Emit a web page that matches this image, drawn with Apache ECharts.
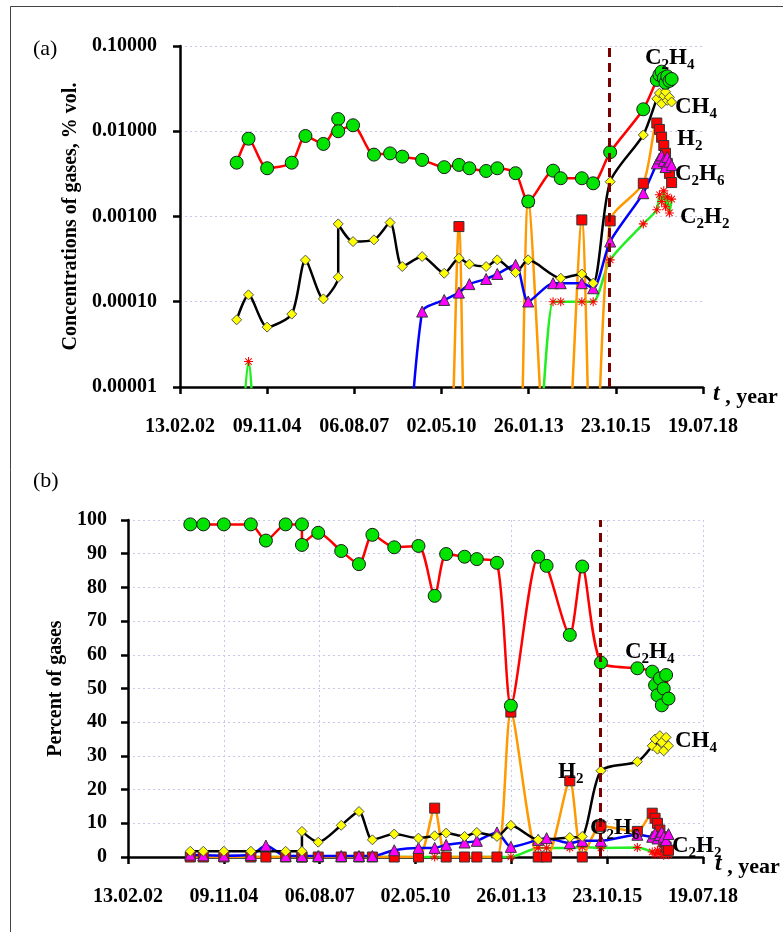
<!DOCTYPE html>
<html>
<head>
<meta charset="utf-8">
<script src="https://cdn.jsdelivr.net/npm/echarts@6/dist/echarts.min.js"></script>
<style>
  html, body { margin: 0; padding: 0; background: #fff; }
  #chart { width: 783px; height: 932px; }
</style>
</head>
<body>
<div id="chart"></div>
<script>
  // x values are days counted from 13.02.02, ticks every 1000 days
  const tickLabels = ['13.02.02', '09.11.04', '06.08.07', '02.05.10', '26.01.13', '23.10.15', '19.07.18'];
  const days = [650, 786, 1000, 1282, 1439, 1645, 1815, 1815, 1985, 2225, 2410, 2550, 2778,
    3031, 3200, 3320, 3512, 3640, 3850, 3995, 4280, 4368, 4610, 4740, 4935, 5315,
    5470, 5500, 5525, 5550, 5570, 5590, 5615, 5640];
  const eventDay = 4925;

  // (a) concentrations, % vol. (0 = not detected)
  const c2h4Vol = [0.00428, 0.00818, 0.00368, 0.00428, 0.0088, 0.0071, 0.0139, 0.0100, 0.01175, 0.00532, 0.0055, 0.00504, 0.00461,
    0.00379, 0.00403, 0.00368, 0.00342, 0.00368, 0.00322, 0.00150, 0.00345, 0.00281, 0.00281, 0.00245, 0.00568, 0.0181,
    0.040, 0.046, 0.050, 0.042, 0.037, 0.044, 0.039, 0.041];
  const ch4Vol = [0.0000614, 0.0001205, 0.0000504, 0.0000716, 0.000308, 0.000108, 0.000194, 0.000819, 0.000508, 0.000532, 0.000849, 0.000259, 0.000339,
    0.000216, 0.000324, 0.000276, 0.000259, 0.00031, 0.00022, 0.00031, null, 0.000189, 0.000212, 0.000165, 0.00256, 0.00905,
    0.024, 0.028, 0.021, 0.026, 0.029, 0.023, 0.025, 0.022];
  const h2Vol = [0, 0, 0, 0, 0, 0, 0, 0, 0, 0, 0, 0, 0,
    0, 0.000762, 0, 0, 0, 0, 0.0015, 0, 0, 0.000912, 0, 0.000888, 0.00245,
    0.0125, 0.0105, 0.0085, 0.0068, 0.0055, 0.0042, 0.0032, 0.0025];
  const c2h6Vol = [null, null, null, null, null, null, null, null, null, null, null, 0, 0.0000767,
    0.000105, 0.000128, 0.000161, 0.000185, 0.000212, 0.000271, 0.0001007, 0.000165, 0.000165, 0.000165, 0.000144, 0.000508, 0.001876,
    0.0042, 0.0048, 0.0052, 0.0045, 0.0038, 0.0050, 0.0044, 0.0040];
  const c2h2Vol = [0, 0.0000199, 0, 0, 0, 0, 0, 0, 0, 0, 0, 0, 0,
    0, 0, 0, 0, 0, 0, 0, 0.0001, 0.0001, 0.0001, 0.0001, 0.00031, 0.000819,
    0.0012, 0.0018, 0.0015, 0.0020, 0.0013, 0.0017, 0.0011, 0.0016];

  // (b) percent of gases
  const c2h4Pct = [98.7, 98.7, 98.7, 98.7, 93.9, 98.7, 98.7, 92.6, 96.2, 90.8, 86.9, 95.6, 91.9,
    92.3, 77.5, 89.9, 89.1, 88.4, 87.3, 44.9, 89.1, 86.4, 65.9, 86.2, 57.7, 56.0,
    55, 51, 48, 53, 45, 50, 54, 47];
  const ch4Pct = [1.7, 1.7, 1.7, 1.7, null, 1.7, 1.7, 7.6, 4.4, 9.4, 13.5, 5.1, 6.8,
    5.6, 6.3, 7.1, 6.1, 7.3, 6.1, 9.4, 5.1, null, 5.8, 6.1, 25.6, 28.3,
    33, 35, 32, 36, 34, 31.5, 35.5, 33];
  const h2Pct = [0, 0, 0, 0, 0, 0, 0, 0, 0, 0, 0, 0, 0,
    0, 14.5, 0, 0, 0, 0, 43.0, 0, 0, 22.6, 0, 9.1, 7.6,
    13, 11.5, 10, 8, 6, 4.5, 3, 2];
  const c2h6Pct = [0.7, 0.5, 0.4, 0.6, 3.4, 0.3, 0.3, 0.3, 0.3, 0.3, 0.3, 0.3, 2.0,
    2.7, 2.7, 3.6, 4.3, 4.8, 7.3, 3.0, 5.1, 5.6, 4.1, 4.8, 4.8, 6.6,
    6, 7, 5.5, 6.5, 7.5, 6, 5, 6.8];
  const c2h2Pct = [0, 0.2, 0, 0, 0, 0, 0, 0, 0, 0, 0, 0, 0,
    0, 0, 0, 0, 0, 0, 0, 2.7, 2.7, 2.7, 3.0, 2.7, 2.8,
    1.5, 0.8, 2, 1, 1.8, 0.5, 1.2, 0.7];

  const FONT = "'Liberation Serif', 'Times New Roman', serif";
  const LOG_FLOOR = 1e-7; // stand-in for "not detected" on the log axis

  const pairs = (vals, logScale) =>
    days
      .map((d, i) => [d, vals[i]])
      .filter((p) => p[1] != null)
      .map((p) => [p[0], logScale && p[1] <= 0 ? LOG_FLOOR : p[1]]);

  const asterisk = 'path://M0,4.4L10,4.4L10,5.6L0,5.6Z M4.4,0L5.6,0L5.6,10L4.4,10Z M1,1.8L1.8,1L9,8.2L8.2,9Z M8.2,1L9,1.8L1.8,9L1,8.2Z';

  const gases = [
    { key: 'c2h2', line: '#22ee22', symbol: asterisk, size: 9, fill: '#ff0000', border: '#ff0000', bw: 0 },
    { key: 'h2', line: '#ff9900', symbol: 'rect', size: 10, fill: '#ff0000', border: '#333', bw: 1 },
    { key: 'c2h6', line: '#0000ff', symbol: 'triangle', size: 11, fill: '#ff00ff', border: '#333', bw: 1 },
    { key: 'ch4', line: '#000000', symbol: 'diamond', size: 10, fill: '#ffff00', border: '#555', bw: 1 },
    { key: 'c2h4', line: '#ff0000', symbol: 'circle', size: 13, fill: '#00e400', border: '#1a1a1a', bw: 1 },
  ];
  const topData = { c2h4: c2h4Vol, ch4: ch4Vol, h2: h2Vol, c2h6: c2h6Vol, c2h2: c2h2Vol };
  const botData = { c2h4: c2h4Pct, ch4: ch4Pct, h2: h2Pct, c2h6: c2h6Pct, c2h2: c2h2Pct };

  const eventLine = {
    silent: true,
    symbol: ['none', 'none'],
    label: { show: false },
    lineStyle: { color: '#7a0000', type: [9, 6], width: 3 },
    data: [{ xAxis: eventDay }],
  };

  const makeSeries = (g, gridIdx) => ({
    type: 'line',
    xAxisIndex: gridIdx,
    yAxisIndex: gridIdx,
    data: pairs(gridIdx === 0 ? topData[g.key] : botData[g.key], gridIdx === 0),
    smooth: 0.25,
    clip: true,
    symbol: g.symbol,
    symbolSize: g.size,
    showAllSymbol: true,
    lineStyle: { color: g.line, width: 2.5 },
    itemStyle: { color: g.fill, borderColor: g.border, borderWidth: g.bw },
    animation: false,
    markLine: g.key === 'c2h4' ? eventLine : undefined,
  });

  const xAxisBase = (gridIndex, grid) => ({
    type: 'value',
    gridIndex,
    min: 0,
    max: 6000,
    interval: 1000,
    axisLine: { lineStyle: { color: '#000', width: 2.5 } },
    axisTick: { show: true, length: 7, lineStyle: { color: '#000', width: 2.5 } },
    axisLabel: {
      margin: 30,
      fontFamily: FONT,
      fontWeight: 'bold',
      fontSize: 20,
      color: '#000',
      formatter: (v) => tickLabels[Math.round(v / 1000)],
    },
    splitLine: { show: grid, lineStyle: { color: '#c8c8ec', type: [2, 3], width: 1 } },
  });

  const yAxisStyle = {
    axisLine: { show: true, lineStyle: { color: '#000', width: 2.5 } },
    axisTick: { show: true, length: 7, lineStyle: { color: '#000', width: 2.5 } },
    splitLine: { show: true, lineStyle: { color: '#c8c8ec', type: [2, 3], width: 1 } },
    nameLocation: 'middle',
    nameTextStyle: { fontFamily: FONT, fontWeight: 'bold', fontSize: 20, color: '#000' },
  };

  const chemText = (parts) => parts.map(([t, sub]) => (sub ? `{s|${t}}` : `{m|${t}}`)).join('');
  const chemRich = {
    m: { fontFamily: FONT, fontWeight: 'bold', fontSize: 23, color: '#000', lineHeight: 30, verticalAlign: 'middle' },
    s: { fontFamily: FONT, fontWeight: 'bold', fontSize: 15, color: '#000', lineHeight: 30, verticalAlign: 'bottom' },
  };
  const chemLabel = (x, y, parts) => ({
    type: 'text',
    x,
    y,
    z: 100,
    style: { text: chemText(parts), rich: chemRich, verticalAlign: 'middle' },
  });
  const C2H4 = [['C'], ['2', 1], ['H'], ['4', 1]];
  const CH4 = [['C'], ['H'], ['4', 1]];
  const H2 = [['H'], ['2', 1]];
  const C2H6 = [['C'], ['2', 1], ['H'], ['6', 1]];
  const C2H2 = [['C'], ['2', 1], ['H'], ['2', 1]];

  const tYear = (x, y) => ({
    type: 'text',
    x,
    y,
    z: 100,
    style: {
      text: '{t|t}{r| , year}',
      verticalAlign: 'middle',
      rich: {
        t: { fontFamily: FONT, fontStyle: 'italic', fontWeight: 'bold', fontSize: 24, color: '#000', lineHeight: 26, verticalAlign: 'top' },
        r: { fontFamily: FONT, fontWeight: 'bold', fontSize: 22, color: '#000', lineHeight: 26, verticalAlign: 'bottom' },
      },
    },
  });
  const panelTag = (x, y, text) => ({
    type: 'text',
    x,
    y,
    style: { text, font: `22px ${FONT}`, fill: '#000', verticalAlign: 'middle' },
  });

  const chart = echarts.init(document.getElementById('chart'));
  chart.setOption({
    backgroundColor: '#fff',
    animation: false,
    grid: [
      { left: 180, right: 80, top: 46, bottom: 545 },
      { left: 128, right: 80, top: 520, bottom: 75 },
    ],
    xAxis: [xAxisBase(0, false), xAxisBase(1, true)],
    yAxis: [
      {
        ...yAxisStyle,
        type: 'log',
        logBase: 10,
        gridIndex: 0,
        min: 0.00001,
        max: 0.1,
        name: 'Concentrations of gases, % vol.',
        nameGap: 99,
        axisLabel: {
          margin: 23,
          fontFamily: FONT,
          fontWeight: 'bold',
          fontSize: 20,
          color: '#000',
          formatter: (v) => v.toFixed(5),
        },
      },
      {
        ...yAxisStyle,
        type: 'value',
        gridIndex: 1,
        min: 0,
        max: 100,
        interval: 10,
        name: 'Percent of gases',
        nameGap: 52,
        axisLabel: { margin: 21, fontFamily: FONT, fontWeight: 'bold', fontSize: 20, color: '#000' },
      },
    ],
    series: [...gases.map((g) => makeSeries(g, 0)), ...gases.map((g) => makeSeries(g, 1))],
    graphic: [
      { type: 'rect', shape: { x: 10.5, y: 6.5, width: 900, height: 1000 }, style: { fill: 'none', stroke: '#444', lineWidth: 1 }, silent: true },
      panelTag(33, 49, '(a)'),
      panelTag(33, 481, '(b)'),
      chemLabel(645, 58, C2H4),
      chemLabel(675, 107, CH4),
      chemLabel(677, 139, H2),
      chemLabel(675, 174, C2H6),
      chemLabel(680, 217, C2H2),
      chemLabel(625, 652, C2H4),
      chemLabel(675, 741, CH4),
      chemLabel(558, 772, H2),
      chemLabel(590, 828, C2H6),
      chemLabel(672, 846, C2H2),
      tYear(713, 395),
      tYear(715, 865),
    ],
  });
</script>
</body>
</html>
